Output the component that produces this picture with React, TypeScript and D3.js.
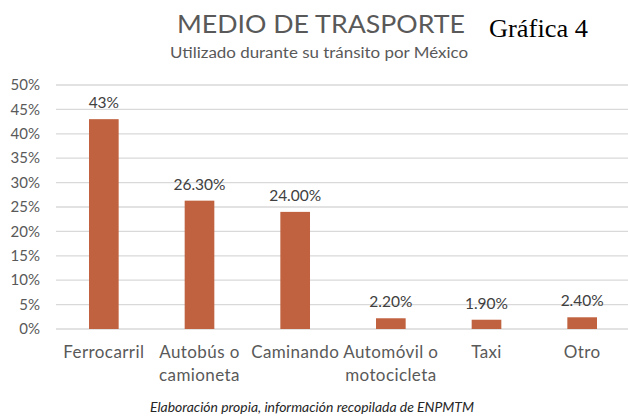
import React from "react";
import * as d3 from "d3";

const categories: string[][] = [
  ["Ferrocarril"],
  ["Autobús o", "camioneta"],
  ["Caminando"],
  ["Automóvil o", "motocicleta"],
  ["Taxi"],
  ["Otro"],
];
const values: number[] = [0.43, 0.263, 0.24, 0.022, 0.019, 0.024];
const valueLabels: string[] = ["43%", "26.30%", "24.00%", "2.20%", "1.90%", "2.40%"];
const yTicks: number[] = [0, 0.05, 0.1, 0.15, 0.2, 0.25, 0.3, 0.35, 0.4, 0.45, 0.5];

const W = 628;
const H = 417;
const FONT = "Lato, 'Open Sans', sans-serif";

export default function App() {
  const keys = categories.map((c) => c.join(" "));
  const x = d3
    .scaleBand<string>()
    .domain(keys)
    .range([56, 630])
    .paddingInner(0.69)
    .paddingOuter(0.345);
  const y = d3.scaleLinear().domain([0, 0.5]).range([329, 85]);
  const fmt = d3.format(".0%");

  return (
    <svg
      width={W}
      height={H}
      viewBox={`0 0 ${W} ${H}`}
      style={{ position: "absolute", left: 0, top: 0, background: "#fff" }}
    >
      <rect x={0} y={0} width={W} height={H} fill="#fff" />
      <text
        x={177}
        y={33}
        fontFamily={FONT}
        fontSize={25}
        fill="#595959"
        textLength={288}
        lengthAdjust="spacingAndGlyphs"
      >
        MEDIO DE TRASPORTE
      </text>
      <text
        x={489}
        y={37}
        fontFamily="'Liberation Serif', 'Times New Roman', serif"
        fontSize={26}
        fill="#000"
        textLength={99}
        lengthAdjust="spacingAndGlyphs"
      >
        Gráfica 4
      </text>
      <text
        x={170}
        y={58}
        fontFamily={FONT}
        fontSize={15.5}
        fill="#595959"
        textLength={298}
        lengthAdjust="spacingAndGlyphs"
      >
        Utilizado durante su tránsito por México
      </text>

      {yTicks.map((t) => (
        <g key={t}>
          <line
            x1={56}
            x2={W}
            y1={y(t)}
            y2={y(t)}
            stroke="#d9d9d9"
            strokeWidth={1.3}
          />
          <text
            x={40}
            y={y(t)}
            dy="0.35em"
            textAnchor="end"
            fontFamily={FONT}
            fontSize={15}
            fill="#595959"
          >
            {fmt(t)}
          </text>
        </g>
      ))}

      {values.map((v, i) => {
        const k = keys[i];
        const bx = x(k) as number;
        const cx = bx + x.bandwidth() / 2;
        return (
          <g key={k}>
            <rect
              x={bx}
              y={y(v)}
              width={x.bandwidth()}
              height={y(0) - y(v)}
              fill="#C0623F"
            />
            <text
              x={cx}
              y={y(v) - 11}
              textAnchor="middle"
              fontFamily={FONT}
              fontSize={15.5}
              fill="#404040"
            >
              {valueLabels[i]}
            </text>
            {categories[i].map((line, j) => (
              <text
                key={j}
                x={cx}
                y={358 + j * 23}
                textAnchor="middle"
                fontFamily={FONT}
                fontSize={17}
                letterSpacing={0.4}
                fill="#595959"
              >
                {line}
              </text>
            ))}
          </g>
        );
      })}

      <text
        x={312}
        y={412}
        textAnchor="middle"
        fontFamily={FONT}
        fontStyle="italic"
        fontSize={13.5}
        fill="#262626"
        textLength={324}
        lengthAdjust="spacingAndGlyphs"
      >
        Elaboración propia, información recopilada de ENPMTM
      </text>
    </svg>
  );
}
